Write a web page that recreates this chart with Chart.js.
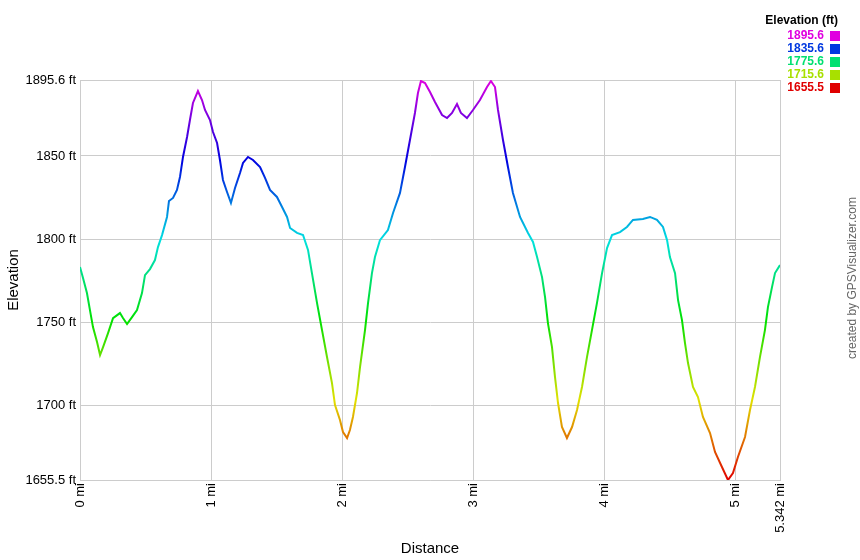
<!DOCTYPE html>
<html lang="en">
<head>
<meta charset="UTF-8">
<title>Elevation profile</title>
<script src="https://cdn.jsdelivr.net/npm/chart.js@4/dist/chart.umd.min.js"></script>
<style>
  body { margin: 0; background: #fff; }
</style>
</head>
<body>
<canvas id="chart" width="860" height="560"></canvas>
<script>
// distance (mi) and elevation (ft)
const distance = [0.000, 0.023, 0.053, 0.076, 0.099, 0.130, 0.153, 0.176, 0.214, 0.252, 0.305, 0.328, 0.359, 0.397, 0.435, 0.473, 0.496, 0.534, 0.572, 0.595, 0.626, 0.664, 0.679, 0.710, 0.740, 0.763, 0.786, 0.817, 0.839, 0.862, 0.900, 0.931, 0.954, 0.992, 1.015, 1.046, 1.068, 1.091, 1.122, 1.152, 1.183, 1.221, 1.244, 1.282, 1.320, 1.374, 1.412, 1.450, 1.503, 1.542, 1.580, 1.603, 1.656, 1.702, 1.740, 1.770, 1.809, 1.847, 1.885, 1.923, 1.946, 1.984, 2.007, 2.038, 2.060, 2.083, 2.114, 2.137, 2.175, 2.198, 2.228, 2.251, 2.289, 2.350, 2.389, 2.442, 2.480, 2.518, 2.556, 2.579, 2.602, 2.633, 2.671, 2.709, 2.763, 2.801, 2.839, 2.877, 2.907, 2.953, 2.999, 3.052, 3.106, 3.136, 3.167, 3.190, 3.228, 3.266, 3.304, 3.358, 3.419, 3.457, 3.488, 3.526, 3.549, 3.571, 3.602, 3.625, 3.648, 3.678, 3.716, 3.755, 3.793, 3.831, 3.869, 3.907, 3.945, 3.984, 4.022, 4.060, 4.121, 4.174, 4.220, 4.296, 4.350, 4.403, 4.449, 4.480, 4.502, 4.541, 4.564, 4.594, 4.617, 4.640, 4.678, 4.716, 4.754, 4.808, 4.846, 4.899, 4.945, 4.983, 5.021, 5.075, 5.113, 5.151, 5.189, 5.227, 5.250, 5.281, 5.304, 5.342];
const elevation = [1783.3, 1776.7, 1767.7, 1757.5, 1747.3, 1738.3, 1730.5, 1735.3, 1743.7, 1752.7, 1755.7, 1752.7, 1749.1, 1753.3, 1757.5, 1767.7, 1778.5, 1782.1, 1787.5, 1795.3, 1802.5, 1813.4, 1823.0, 1824.8, 1829.6, 1837.4, 1849.4, 1861.4, 1871.6, 1881.8, 1889.0, 1883.6, 1877.6, 1871.6, 1864.4, 1857.8, 1847.6, 1835.6, 1828.4, 1821.8, 1830.8, 1839.8, 1845.8, 1849.4, 1847.6, 1843.4, 1836.8, 1829.6, 1825.4, 1819.4, 1813.4, 1806.8, 1803.8, 1802.6, 1793.6, 1779.7, 1761.7, 1745.5, 1729.3, 1713.7, 1700.5, 1691.5, 1684.3, 1680.7, 1685.5, 1693.3, 1707.7, 1723.3, 1745.5, 1761.7, 1779.7, 1789.3, 1799.5, 1805.5, 1815.8, 1827.8, 1843.4, 1859.6, 1875.8, 1887.8, 1895.0, 1893.8, 1888.4, 1882.4, 1874.6, 1872.8, 1875.8, 1881.2, 1875.8, 1872.8, 1877.6, 1883.6, 1891.4, 1895.0, 1891.4, 1877.6, 1859.6, 1843.4, 1827.8, 1813.4, 1803.8, 1798.4, 1789.3, 1777.3, 1765.3, 1749.7, 1735.3, 1717.3, 1701.7, 1687.3, 1680.7, 1687.3, 1697.5, 1711.3, 1729.3, 1745.5, 1761.7, 1779.7, 1794.7, 1802.5, 1804.3, 1807.4, 1811.6, 1812.2, 1813.4, 1811.6, 1807.4, 1799.5, 1789.3, 1779.7, 1763.5, 1751.5, 1737.7, 1725.7, 1711.3, 1705.3, 1693.3, 1683.7, 1672.3, 1663.3, 1655.5, 1659.7, 1669.3, 1681.3, 1697.5, 1711.3, 1729.3, 1745.5, 1759.3, 1771.3, 1779.7, 1784.5];

const xTicks = [0, 1, 2, 3, 4, 5, 5.342];
const yTicks = [1655.5, 1700, 1750, 1800, 1850, 1895.6];
const legendValues = [1895.6, 1835.6, 1775.6, 1715.6, 1655.5];

const minElev = 1655.5, maxElev = 1895.6;

// colour by elevation: red at the bottom, through green and blue, to magenta at the top
function elevColor(v) {
    const t = (v - minElev) / (maxElev - minElev);
    return 'hsl(' + (300 * t).toFixed(1) + ',100%,44%)';
}

function lineGradient(context) {
    const chart = context.chart;
    const area = chart.chartArea;
    if (!area || !isFinite(area.top) || !isFinite(area.bottom)) return '#000';
    // the y range equals the chart area, so bottom = min, top = max
    const g = chart.ctx.createLinearGradient(0, area.bottom, 0, area.top);
    for (let i = 0; i <= 20; i++) {
        g.addColorStop(i / 20, elevColor(minElev + (maxElev - minElev) * i / 20));
    }
    return g;
}

const extras = {
    id: 'extras',
    afterDraw(chart) {
        const ctx = chart.ctx;
        ctx.save();
        ctx.textBaseline = 'middle';
        ctx.textAlign = 'right';
        ctx.font = 'bold 12px "Liberation Sans", Arial, sans-serif';
        ctx.fillStyle = '#000';
        ctx.fillText('Elevation (ft)', 838, 21);
        legendValues.forEach((v, i) => {
            const yy = 36 + i * 13;
            ctx.fillStyle = elevColor(v);
            ctx.fillText(v.toFixed(1), 824, yy);
            ctx.fillRect(830, yy - 5, 10, 10);
        });
        // credit line on the right edge
        ctx.translate(853, 278);
        ctx.rotate(-Math.PI / 2);
        ctx.textAlign = 'center';
        ctx.font = '12px "Liberation Sans", Arial, sans-serif';
        ctx.fillStyle = '#666';
        ctx.fillText('created by GPSVisualizer.com', 0, 0);
        ctx.restore();
    }
};

const ctx = document.getElementById('chart').getContext('2d');
const myChart = new Chart(ctx, {
    type: 'line',
    data: {
        datasets: [{
            label: 'Elevation',
            data: distance.map((d, i) => ({ x: d, y: elevation[i] })),
            borderColor: lineGradient,
            borderWidth: 2,
            pointRadius: 0,
            fill: false,
            tension: 0
        }]
    },
    options: {
        responsive: false,
        animation: false,
        layout: { padding: { top: 80, right: 80, left: 0, bottom: 0 } },
        plugins: {
            legend: { display: false },
            tooltip: { enabled: false }
        },
        scales: {
            x: {
                type: 'linear',
                min: 0,
                max: 5.342,
                afterBuildTicks: s => { s.ticks = xTicks.map(v => ({ value: v })); },
                afterFit: s => { s.height = 80; },
                grid: { color: '#cccccc', tickLength: 0 },
                border: { color: '#cccccc' },
                ticks: {
                    autoSkip: false,
                    minRotation: 90,
                    maxRotation: 90,
                    padding: 3,
                    color: '#000',
                    font: { family: '"Liberation Sans", Arial, sans-serif', size: 13 },
                    callback: v => v + ' mi'
                },
                title: {
                    display: true,
                    text: 'Distance',
                    color: '#000',
                    font: { family: '"Liberation Sans", Arial, sans-serif', size: 15 },
                    padding: { top: 0, bottom: 2 }
                }
            },
            y: {
                min: minElev,
                max: maxElev,
                afterBuildTicks: s => { s.ticks = yTicks.map(v => ({ value: v })); },
                afterFit: s => { s.width = 80; },
                grid: { color: '#cccccc', tickLength: 0 },
                border: { color: '#cccccc' },
                ticks: {
                    autoSkip: false,
                    padding: 4,
                    color: '#000',
                    font: { family: '"Liberation Sans", Arial, sans-serif', size: 13 },
                    callback: v => v + ' ft'
                },
                title: {
                    display: true,
                    text: 'Elevation',
                    color: '#000',
                    font: { family: '"Liberation Sans", Arial, sans-serif', size: 15 },
                    padding: { top: 5, bottom: 0 }
                }
            }
        }
    },
    plugins: [extras]
});
</script>
</body>
</html>
